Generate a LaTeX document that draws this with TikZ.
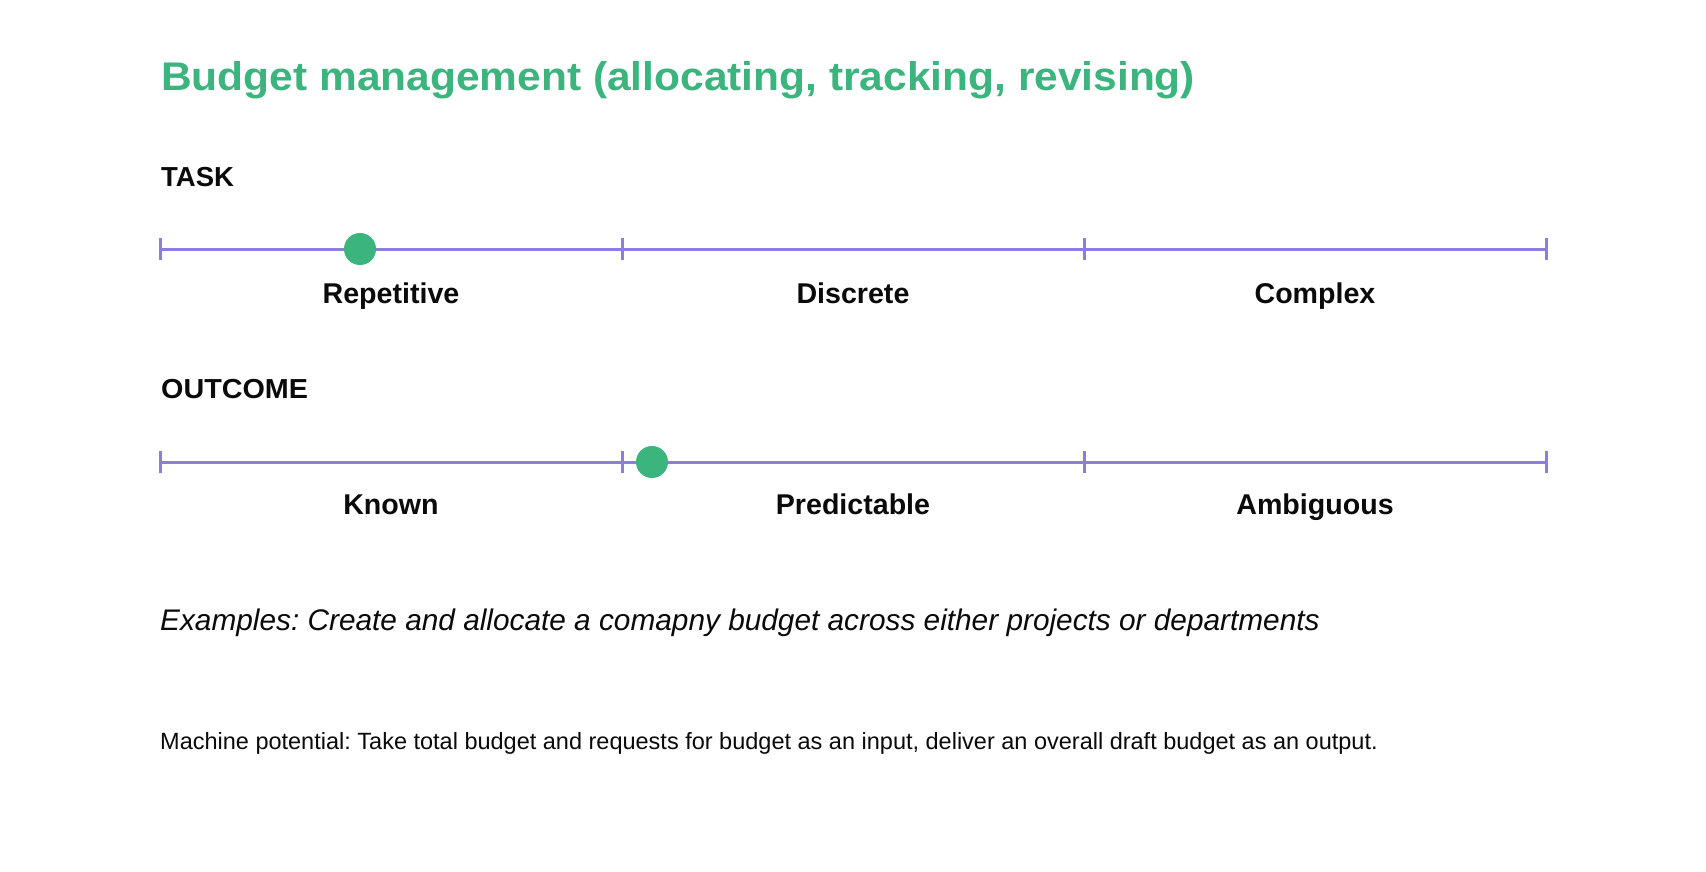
\documentclass[tikz,border=0pt]{standalone}
\usepackage{fontspec}
\usepackage{graphicx}
\setmainfont{Liberation Sans}
\frenchspacing
\definecolor{brandgreen}{RGB}{59,180,126}
\definecolor{axispurple}{RGB}{139,126,220}
\definecolor{inkblack}{RGB}{10,10,10}
\newcommand{\widen}[2]{\scalebox{#1}[1]{#2}}
\begin{document}
\begin{tikzpicture}[x=1pt,y=-1pt,
  axisline/.style={draw=axispurple,line width=3pt},
  tickmark/.style={draw=axispurple,line width=3pt},
  dotmark/.style={circle,fill=brandgreen,inner sep=0pt,minimum size=32pt},
  titletext/.style={anchor=base west,inner sep=0pt,text=brandgreen,font=\fontsize{40}{48}\selectfont\bfseries},
  headtext/.style={anchor=base west,inner sep=0pt,text=inkblack,font=\fontsize{27.5}{32}\selectfont\bfseries},
  scaletext/.style={anchor=base,inner sep=0pt,text=inkblack,font=\fontsize{28.6}{34}\selectfont\bfseries},
  exampletext/.style={anchor=base west,inner sep=0pt,text=inkblack,font=\fontsize{29.8}{35}\selectfont\itshape},
  machinetext/.style={anchor=base west,inner sep=0pt,text=inkblack,font=\fontsize{23.5}{28}\selectfont}]
\useasboundingbox[fill=white] (0,0) rectangle (1706,872);
\node[titletext] (title) at (161,91) {\widen{1.062}{Budget management (allocating, tracking, revising)}};
% TASK
\node[headtext] (task) at (161,186) {TASK};
\coordinate (t0) at (160,249);
\coordinate (t1) at (622,249);
\coordinate (t2) at (1084,249);
\coordinate (t3) at (1546,249);
\draw[axisline] (t0) -- (t3);
\foreach \c in {t0,t1,t2,t3}{\draw[tickmark] ([yshift=-11pt]\c) -- ([yshift=11pt]\c);}
\node[dotmark] (taskdot) at (360,249) {};
\node[scaletext] (rep) at (391,303) {Repetitive};
\node[scaletext] (dis) at (853,303) {Discrete};
\node[scaletext] (com) at (1315,303) {Complex};
% OUTCOME
\node[headtext] (outcome) at (161,398) {\widen{1.045}{OUTCOME}};
\coordinate (o0) at (160,462);
\coordinate (o1) at (622,462);
\coordinate (o2) at (1084,462);
\coordinate (o3) at (1546,462);
\draw[axisline] (o0) -- (o3);
\foreach \c in {o0,o1,o2,o3}{\draw[tickmark] ([yshift=-11pt]\c) -- ([yshift=11pt]\c);}
\node[dotmark] (outdot) at (652,462) {};
\node[scaletext] (kno) at (391,514) {Known};
\node[scaletext] (pre) at (853,514) {Predictable};
\node[scaletext] (amb) at (1315,514) {Ambiguous};
% texts
\node[exampletext] (examples) at (160,630) {Examples: Create and allocate a comapny budget across either projects or departments};
\node[machinetext] (machine) at (160,749) {Machine potential: Take total budget and requests for budget as an input, deliver an overall draft budget as an output.};
\end{tikzpicture}
\end{document}
